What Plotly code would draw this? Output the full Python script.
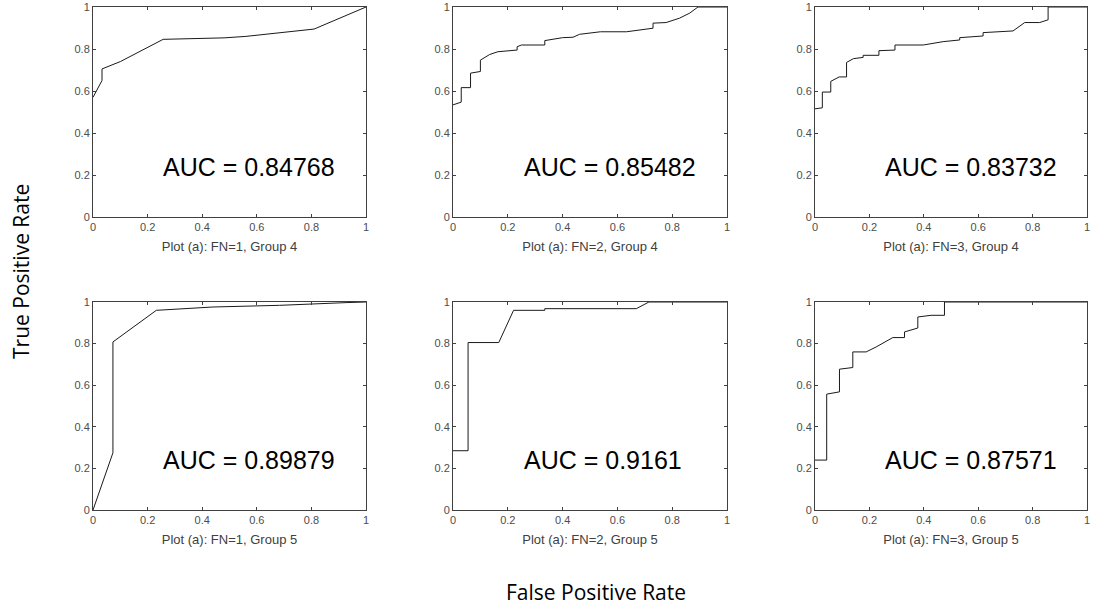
import plotly.graph_objects as go

# ---- data ----
fpr_fn1_g4 = [0, 0.033, 0.033, 0.10, 0.257, 0.37, 0.48, 0.56, 0.81, 1.0]
tpr_fn1_g4 = [0.57, 0.65, 0.705, 0.74, 0.846, 0.848, 0.853, 0.86, 0.895, 1.0]

fpr_fn2_g4 = [0, 0.030, 0.030, 0.064, 0.064, 0.10, 0.10, 0.134, 0.164, 0.234, 0.234, 0.25, 0.335, 0.335,
              0.40, 0.438, 0.462, 0.523, 0.538, 0.633, 0.73, 0.73, 0.778, 0.827, 0.864, 0.894, 1.0]
tpr_fn2_g4 = [0.534, 0.547, 0.616, 0.616, 0.685, 0.693, 0.747, 0.774, 0.787, 0.795, 0.811, 0.819, 0.819, 0.84,
              0.854, 0.856, 0.870, 0.878, 0.882, 0.882, 0.899, 0.923, 0.926, 0.947, 0.971, 1.0, 1.0]

fpr_fn3_g4 = [0, 0.027, 0.027, 0.058, 0.058, 0.089, 0.116, 0.116, 0.141, 0.177, 0.177, 0.235, 0.235, 0.294,
              0.294, 0.398, 0.471, 0.532, 0.532, 0.618, 0.618, 0.728, 0.771, 0.826, 0.857, 0.857, 1.0]
tpr_fn3_g4 = [0.515, 0.52, 0.595, 0.595, 0.646, 0.667, 0.667, 0.736, 0.754, 0.76, 0.77, 0.77, 0.792, 0.795,
              0.819, 0.819, 0.835, 0.843, 0.854, 0.862, 0.878, 0.886, 0.926, 0.926, 0.939, 1.0, 1.0]

fpr_fn1_g5 = [0, 0.073, 0.073, 0.232, 0.44, 0.683, 0.927, 1.0]
tpr_fn1_g5 = [0, 0.275, 0.808, 0.96, 0.976, 0.984, 0.997, 1.0]

fpr_fn2_g5 = [0, 0.055, 0.055, 0.167, 0.221, 0.335, 0.335, 0.669, 0.715, 1.0]
tpr_fn2_g5 = [0.285, 0.285, 0.805, 0.805, 0.96, 0.96, 0.968, 0.968, 1.0, 1.0]

fpr_fn3_g5 = [0, 0.043, 0.043, 0.09, 0.09, 0.139, 0.139, 0.188, 0.225, 0.286, 0.329, 0.329, 0.378, 0.378,
              0.427, 0.476, 0.476, 1.0]
tpr_fn3_g5 = [0.24, 0.24, 0.557, 0.568, 0.677, 0.685, 0.76, 0.76, 0.784, 0.829, 0.829, 0.856, 0.875, 0.928,
              0.936, 0.936, 1.0, 1.0]

fpr_series = [fpr_fn1_g4, fpr_fn2_g4, fpr_fn3_g4, fpr_fn1_g5, fpr_fn2_g5, fpr_fn3_g5]
tpr_series = [tpr_fn1_g4, tpr_fn2_g4, tpr_fn3_g4, tpr_fn1_g5, tpr_fn2_g5, tpr_fn3_g5]
auc_values = ["0.84768", "0.85482", "0.83732", "0.89879", "0.9161", "0.87571"]
subplot_titles = ["Plot (a): FN=1, Group 4", "Plot (a): FN=2, Group 4", "Plot (a): FN=3, Group 4",
                  "Plot (a): FN=1, Group 5", "Plot (a): FN=2, Group 5", "Plot (a): FN=3, Group 5"]
tick_vals = [0, 0.2, 0.4, 0.6, 0.8, 1]
tick_text = ["0", "0.2", "0.4", "0.6", "0.8", "1"]

# ---- layout geometry (pixels) ----
W, H = 1098, 607
col_px = [(93, 366), (453, 727), (815, 1087)]
row_px = [(7, 217), (302, 510)]

fig = go.Figure()
axis_color = "#404040"
sans = "Liberation Sans, Arial, sans-serif"

for i in range(6):
    r, c = divmod(i, 3)
    n = i + 1
    xa = "x" if n == 1 else f"x{n}"
    ya = "y" if n == 1 else f"y{n}"
    fig.add_trace(go.Scatter(x=fpr_series[i], y=tpr_series[i], mode="lines",
                             line=dict(color="#1a1a1a", width=1), xaxis=xa, yaxis=ya,
                             showlegend=False, hoverinfo="x+y", cliponaxis=False))
    x0, x1 = col_px[c]
    y0, y1 = row_px[r]
    common = dict(range=[0, 1], tickvals=tick_vals, ticktext=tick_text, ticks="inside",
                  ticklen=3, tickcolor=axis_color, showline=True, linecolor=axis_color,
                  linewidth=1, mirror="ticks", showgrid=False, zeroline=False, automargin=False,
                  tickfont=dict(family=sans, size=11, color="#4d4d4d"), fixedrange=True)
    fig.layout[f"xaxis{'' if n == 1 else n}"] = dict(
        domain=[x0 / W, x1 / W], anchor=ya,
        title=dict(text=subplot_titles[i], font=dict(family=sans, size=13, color="#404040"), standoff=9),
        **common)
    fig.layout[f"yaxis{'' if n == 1 else n}"] = dict(
        domain=[1 - y1 / H, 1 - y0 / H], anchor=xa, **common)
    fig.add_annotation(x=0.25, y=0.24, xref=xa, yref=ya, text=f"AUC = {auc_values[i]}",
                       showarrow=False, xanchor="left", yanchor="middle",
                       font=dict(family=sans, size=25, color="#000000"))

label_font = dict(family="Open Sans, Lato, sans-serif", size=21, color="#000000")
fig.add_annotation(x=596 / W, y=1 - 592 / H, xref="paper", yref="paper", text="False Positive Rate",
                   showarrow=False, xanchor="center", yanchor="middle", font=label_font)
fig.add_annotation(x=21 / W, y=1 - 272 / H, xref="paper", yref="paper", text="True Positive Rate",
                   showarrow=False, xanchor="center", yanchor="middle", textangle=-90, font=label_font)

fig.update_layout(width=W, height=H, margin=dict(l=0, r=0, t=0, b=0, autoexpand=False),
                  paper_bgcolor="white", plot_bgcolor="white")

fig.write_html("out.html", config={"displayModeBar": False},
               post_script="document.body.style.margin='0';document.body.style.overflow='hidden';")
